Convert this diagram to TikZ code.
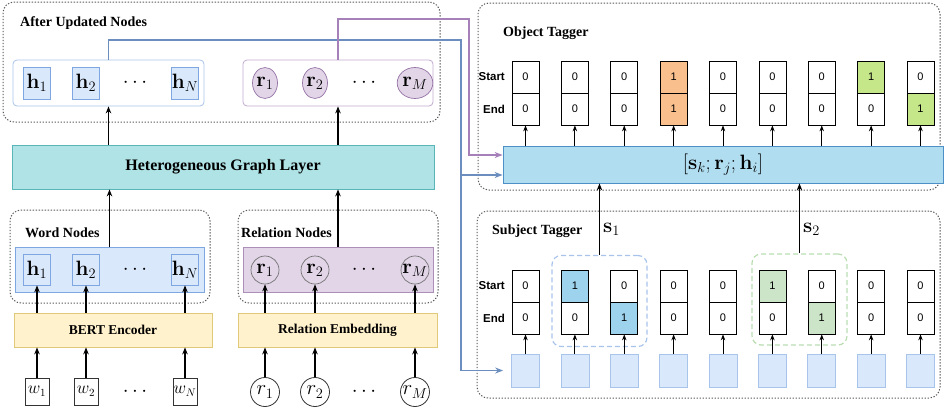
\documentclass[tikz,border=0pt]{standalone}
\usepackage[no-math]{fontspec}
\setmainfont{Liberation Serif}
\setsansfont{Liberation Sans}
\usetikzlibrary{arrows.meta,shapes.geometric,calc}
\definecolor{hfill}{HTML}{DAE8FC}
\definecolor{hdraw}{HTML}{7EA6E0}
\definecolor{hgrpA}{HTML}{A9C4EB}
\definecolor{rfill}{HTML}{E1D5E7}
\definecolor{rdraw}{HTML}{9673A6}
\definecolor{rgrpA}{HTML}{C3ABD0}
\definecolor{hglfill}{HTML}{B0E3E6}
\definecolor{hgldraw}{HTML}{5AB5B8}
\definecolor{yfill}{HTML}{FFF2CC}
\definecolor{ydraw}{HTML}{E0C97A}
\definecolor{catfill}{HTML}{B1DDF0}
\definecolor{catdraw}{HTML}{4D8FC7}
\definecolor{conblue}{HTML}{6C8EBF}
\definecolor{conpurp}{HTML}{A680B8}
\definecolor{sblue}{HTML}{9DD3EC}
\definecolor{sgreen}{HTML}{CCE5C8}
\definecolor{oorange}{HTML}{F9C08E}
\definecolor{olime}{HTML}{C5E78A}
\definecolor{sqfill}{HTML}{DAE8FC}
\definecolor{sqdraw}{HTML}{A9C4EB}
\definecolor{gblue}{HTML}{A9C4EB}
\definecolor{ggreen}{HTML}{B9DDB0}
\begin{document}
\begin{tikzpicture}[x=1pt,y=-1pt,
  dashbox/.style={draw=black!65, dash pattern=on 1.3pt off 1.7pt, line width=1pt, rounded corners=11pt},
  ttl/.style={font=\fontsize{14}{16}\selectfont\bfseries, anchor=west, inner sep=0pt},
  mth/.style={font=\fontsize{20}{22}\selectfont},
  grp/.style={line width=0.8pt, rounded corners=4pt},
  hbox/.style={draw=hdraw, fill=hfill, line width=0.7pt, minimum width=27pt, minimum height=32pt, inner sep=0pt, mth},
  rcircA/.style={ellipse, draw=rdraw, fill=rfill, line width=0.7pt, minimum width=25pt, minimum height=31pt, inner sep=0pt, mth},
  rcircW/.style={circle, draw=black!55, fill=rfill, line width=0.7pt, minimum size=28pt, inner sep=0pt, mth},
  cell/.style={draw=black, line width=0.7pt, minimum width=27pt, minimum height=32pt, inner sep=0pt, font=\sffamily\fontsize{11}{12}\selectfont},
  sq/.style={draw=sqdraw, fill=sqfill, line width=0.7pt, minimum width=28pt, minimum height=33pt, inner sep=0pt},
  lbl/.style={font=\sffamily\bfseries\fontsize{11.5}{12}\selectfont, anchor=east, inner sep=0pt},
  wbox/.style={draw=black!80, line width=0.8pt, minimum width=24pt, minimum height=27pt, inner sep=0pt, font=\fontsize{16}{18}\selectfont},
  rbc/.style={circle, draw=black!80, line width=0.8pt, minimum size=29pt, inner sep=0pt, font=\fontsize{21}{23}\selectfont},
  dots/.style={font=\fontsize{20}{22}\selectfont},
  enc/.style={draw=ydraw, fill=yfill, line width=0.8pt, minimum height=34pt, font=\fontsize{13.5}{15}\selectfont\bfseries},
  arr/.style={-{Stealth[length=7pt,width=5.5pt]}, line width=1.2pt},
  sarr/.style={-{Stealth[length=6pt,width=4.5pt]}, line width=0.9pt},
  con/.style={-{Stealth[length=8pt,width=6pt]}, line width=1.2pt}
]
\useasboundingbox (0,0) rectangle (944,415);

% ---------------- left: After Updated Nodes
\node[dashbox, minimum width=437pt, minimum height=120pt] (aun) at (221.5,62) {};
\node[ttl] (auntitle) at (20,23) {After Updated Nodes};
\node[grp, draw=hgrpA, fill=white, minimum width=191pt, minimum height=46pt] (hgA) at (108.5,83) {};
\node[hbox] (hA1) at (37,83) {$\mathbf{h}_1$};
\node[hbox] (hA2) at (86,83) {$\mathbf{h}_2$};
\node[dots] (hAd) at (135,83) {$\cdots$};
\node[hbox] (hAN) at (185,83) {$\mathbf{h}_N$};
\node[grp, draw=rgrpA, fill=white, minimum width=190pt, minimum height=46pt] (rgA) at (338,83) {};
\node[rcircA] (rA1) at (265,83) {$\mathbf{r}_1$};
\node[rcircA] (rA2) at (315,83) {$\mathbf{r}_2$};
\node[dots] (rAd) at (364,83) {$\cdots$};
\node[rcircA] (rAM) at (415,83) {$\mathbf{r}_M$};

% ---------------- Heterogeneous Graph Layer
\node[draw=hgldraw, fill=hglfill, line width=0.8pt, minimum width=422pt, minimum height=44pt,
      font=\fontsize{16}{18}\selectfont\bfseries] (hgl) at (223,167) {Heterogeneous Graph Layer};

% ---------------- Word Nodes
\node[dashbox, minimum width=200pt, minimum height=93pt] (wn) at (110,256.5) {};
\node[ttl] (wntitle) at (25,233) {Word Nodes};
\node[grp, rounded corners=0pt, draw=hdraw, fill=hfill, minimum width=189pt, minimum height=45pt] (hgW) at (109.5,269.5) {};
\node[hbox, minimum height=31pt] (hW1) at (37,269.5) {$\mathbf{h}_1$};
\node[hbox, minimum height=31pt] (hW2) at (86,269.5) {$\mathbf{h}_2$};
\node[dots] (hWd) at (135,269.5) {$\cdots$};
\node[hbox, minimum height=31pt] (hWN) at (185,269.5) {$\mathbf{h}_N$};

% ---------------- Relation Nodes
\node[dashbox, minimum width=200pt, minimum height=93pt] (rn) at (338,256.5) {};
\node[ttl] (rntitle) at (241,233) {Relation Nodes};
\node[grp, rounded corners=0pt, draw=rdraw!80, fill=rfill, minimum width=190pt, minimum height=45pt] (rgW) at (338,269.5) {};
\node[rcircW] (rW1) at (265,270) {$\mathbf{r}_1$};
\node[rcircW] (rW2) at (315,270) {$\mathbf{r}_2$};
\node[dots] (rWd) at (364,270) {$\cdots$};
\node[rcircW] (rWM) at (415,270) {$\mathbf{r}_M$};

% ---------------- encoders
\node[enc, minimum width=198pt] (bert) at (113,330) {BERT Encoder};
\node[enc, minimum width=199pt] (remb) at (337.5,330) {Relation Embedding};

% ---------------- inputs
\node[wbox] (w1) at (37,391.5) {$w_1$};
\node[wbox] (w2) at (86,391.5) {$w_2$};
\node[dots] (wd) at (135,391.5) {$\cdots$};
\node[wbox] (wN) at (185,391.5) {$w_N$};
\node[rbc] (rb1) at (265,392) {$r_1$};
\node[rbc] (rb2) at (315,392) {$r_2$};
\node[dots] (rbd) at (364,392) {$\cdots$};
\node[rbc] (rbM) at (415,392) {$r_M$};

% ---------------- left arrows
\foreach \n in {1,2,N}{
  \draw[arr] (w\n.north) -- (w\n.north |- bert.south);
  \draw[arr] (hW\n.south |- bert.north) -- (hW\n.south);
}
\foreach \n in {1,2,M}{
  \draw[arr] (rb\n.north) -- (rb\n.north |- remb.south);
  \draw[arr] (rW\n.south |- remb.north) -- (rW\n.south);
}
\draw[arr] (hgW.north) -- (hgW.north |- hgl.south);
\draw[arr] (rgW.north) -- (rgW.north |- hgl.south);
\draw[arr] (hgA.south |- hgl.north) -- (hgA.south);
\draw[arr] (rgA.south |- hgl.north) -- (rgA.south);

% ---------------- right: Object Tagger
\node[dashbox, minimum width=462pt, minimum height=187pt] (ot) at (709,96.5) {};
\node[ttl] (ottitle) at (503,33) {Object Tagger};
\node[draw=catdraw, fill=catfill, line width=0.8pt, minimum width=440pt, minimum height=37pt, font=\fontsize{20}{22}\selectfont] (cat) at (723,164.5) {$[\mathbf{s}_k;\mathbf{r}_j;\mathbf{h}_i]$};
\node[lbl] (ostart) at (505,77) {Start};
\node[lbl] (oend) at (505,109) {End};

% ---------------- Subject Tagger
\node[dashbox, minimum width=463pt, minimum height=187pt] (st) at (708.5,304.5) {};
\node[ttl] (sttitle) at (492,231) {Subject Tagger};
\node[lbl] (sstart) at (505,286) {Start};
\node[lbl] (send) at (505,318) {End};
\node[draw=gblue, dash pattern=on 5pt off 3pt, line width=1.2pt, rounded corners=9pt, minimum width=95pt, minimum height=91pt] (g1) at (599.5,301) {};
\node[draw=ggreen, dash pattern=on 5pt off 3pt, line width=1.2pt, rounded corners=9pt, minimum width=95pt, minimum height=91pt] (g2) at (799.5,299.5) {};

\foreach \i/\va/\vb/\fa/\fb/\vc/\vd/\fc/\fd in {
  1/0/0/white/white/0/0/white/white,
  2/0/0/white/white/1/0/sblue/white,
  3/0/0/white/white/0/1/white/sblue,
  4/1/1/oorange/oorange/0/0/white/white,
  5/0/0/white/white/0/0/white/white,
  6/0/0/white/white/1/0/sgreen/white,
  7/0/0/white/white/0/1/white/sgreen,
  8/1/0/olime/white/0/0/white/white,
  9/0/1/white/olime/0/0/white/white}{
  \pgfmathsetmacro{\cx}{525.5+49.375*(\i-1)}
  \node[cell, fill=\fa] (os\i) at (\cx,77) {\va};
  \node[cell, fill=\fb] (oe\i) at (\cx,109) {\vb};
  \draw[sarr] (oe\i.south |- cat.north) -- (oe\i.south);
  \node[cell, fill=\fc] (ss\i) at (\cx,286) {\vc};
  \node[cell, fill=\fd] (se\i) at (\cx,318) {\vd};
  \node[sq] (sq\i) at (\cx,370.5) {};
  \draw[sarr] (sq\i.north) -- (se\i.south);
}

\draw[arr] (g1.north) -- (g1.north |- cat.south);
\draw[arr] (g2.north) -- (g2.north |- cat.south);
\node[anchor=west, inner sep=0pt, font=\fontsize{21}{23}\selectfont] (s1lbl) at (603,229) {$\mathbf{s}_1$};
\node[anchor=west, inner sep=0pt, font=\fontsize{21}{23}\selectfont] (s2lbl) at (803,229) {$\mathbf{s}_2$};

% ---------------- connectors
\coordinate (bsplit) at (461,175);
\draw[con, draw=conblue] (hgA.north) |- (461,40) |- ($(cat.west)+(0,10.5)$);
\draw[con, draw=conblue, shorten >=8pt] (bsplit) |- (sq1.west);
\draw[con, draw=conpurp] (rgA.north) |- (469,19) |- ($(cat.west)+(0,-9.5)$);
\end{tikzpicture}
\end{document}
